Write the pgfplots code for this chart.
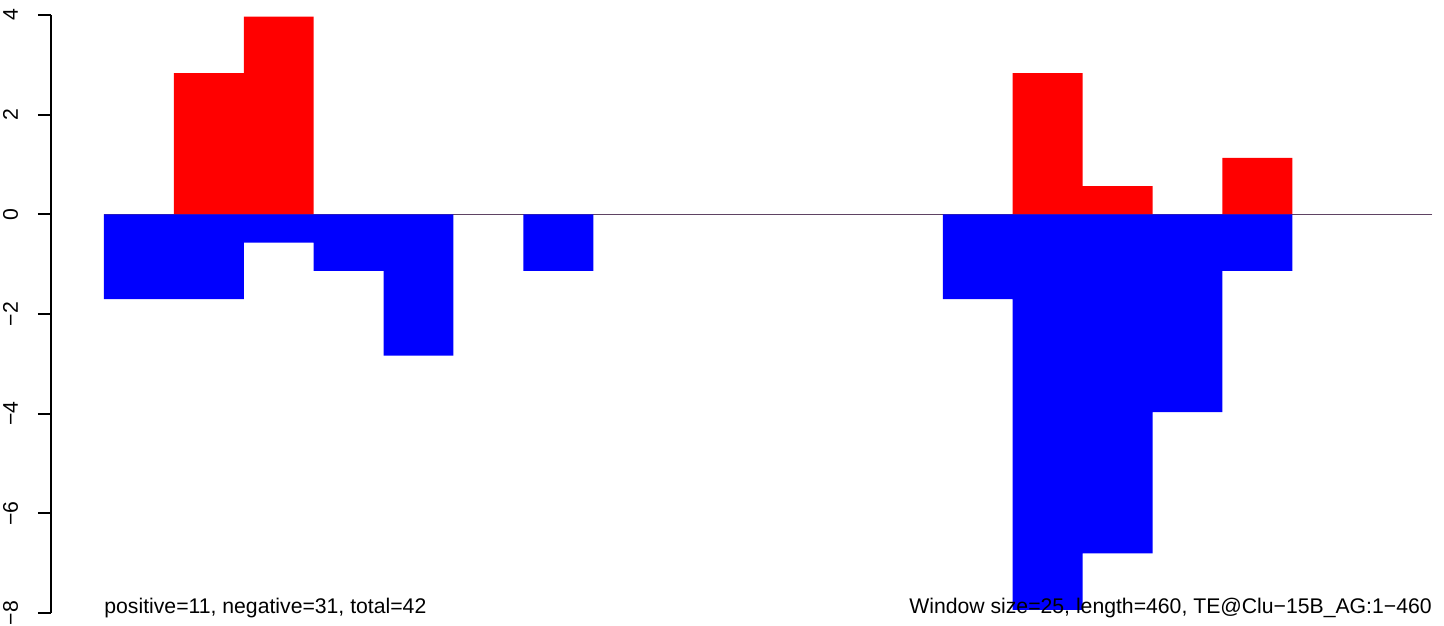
\documentclass[border=0pt]{standalone}
\usepackage{fontspec}
\setmainfont{Liberation Sans}
\usepackage{pgfplots}
\pgfplotsset{compat=1.18}
\definecolor{zerogray}{gray}{0.35}
\begin{document}
\fontsize{10.6bp}{12bp}\selectfont
\begin{tikzpicture}
\useasboundingbox (0,0) rectangle (722bp,313bp);
\begin{axis}[
  at={(25.5bp,6.5bp)}, anchor=south west,
  scale only axis, width=696.5bp, height=299bp,
  xmin=-0.758, xmax=19.17, ymin=-8, ymax=4,
  axis x line=none, axis y line=left,
  axis line style={-, line width=0.9bp, black},
  ytick={-8,-6,-4,-2,0,2,4},
  yticklabels={−8,−6,−4,−2,0,2,4},
  tick align=outside, major tick length=6.5bp,
  tick style={line width=0.9bp, black},
  yticklabel style={rotate=90, anchor=base, inner sep=0pt, yshift=10bp, font=\fontsize{10.6bp}{12bp}\selectfont},
  clip=false,
]
\draw[zerogray, line width=0.7bp] (axis cs:0,0) -- (axis cs:19,0);
\addplot[ybar interval, fill=red, draw=none] coordinates {
(0,0) (1,2.835) (2,3.969) (3,0) (4,0) (5,0) (6,0) (7,0) (8,0) (9,0) (10,0)
(11,0) (12,0) (13,2.835) (14,0.567) (15,0) (16,1.134) (17,0) (18,0) (19,0)
};
\addplot[ybar interval, fill=blue, draw=none] coordinates {
(0,-1.701) (1,-1.701) (2,-0.567) (3,-1.134) (4,-2.835) (5,0) (6,-1.134) (7,0) (8,0) (9,0) (10,0)
(11,0) (12,-1.701) (13,-7.938) (14,-6.804) (15,-3.969) (16,-1.134) (17,0) (18,0) (19,0)
};
\node[anchor=base west, inner sep=0pt, font=\fontsize{10.6bp}{12bp}\selectfont] at (axis cs:0,-8) {positive=11, negative=31, total=42};
\node[anchor=base east, inner sep=0pt, font=\fontsize{10.6bp}{12bp}\selectfont] at (axis cs:19,-8) {Window size=25, length=460, TE@Clu−15B\_AG:1−460};
\end{axis}
\end{tikzpicture}
\end{document}
